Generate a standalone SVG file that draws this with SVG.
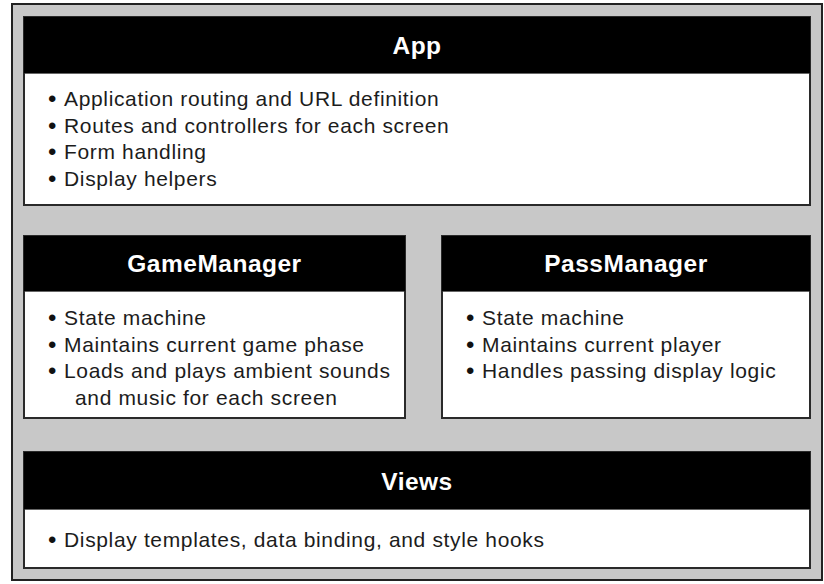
<svg xmlns="http://www.w3.org/2000/svg" width="824" height="584" viewBox="0 0 824 584">
<style>
.frame{fill:#c8c8c8;stroke:#222;stroke-width:2}
.box{fill:#fff;stroke:#2a2a2a;stroke-width:2}
.hdr{fill:#000}
.sep{stroke:#666;stroke-width:1}
.title{font-family:"Liberation Sans",Arial,Helvetica,sans-serif;font-weight:bold;font-size:24.5px;letter-spacing:0.5px;fill:#fff;text-anchor:middle}
.item{font-family:"Liberation Sans",Arial,Helvetica,sans-serif;font-size:21px;letter-spacing:0.65px;fill:#1c1c1c}
.dot{font-family:"Liberation Sans",Arial,Helvetica,sans-serif;font-size:24px;fill:#111}
</style>
<rect class="frame" x="12" y="4" width="810" height="576"/>
<g id="app">
<rect class="box" x="24" y="17" width="786" height="188"/>
<rect class="hdr" x="24" y="17" width="786" height="56"/>
<line class="sep" x1="25" y1="73.5" x2="809" y2="73.5"/>
<text class="title" x="417" y="54">App</text>
<text class="dot" x="48" y="107">•</text>
<text class="item" x="64" y="106">Application routing and URL definition</text>
<text class="dot" x="48" y="133.5">•</text>
<text class="item" x="64" y="132.5">Routes and controllers for each screen</text>
<text class="dot" x="48" y="160">•</text>
<text class="item" x="64" y="159">Form handling</text>
<text class="dot" x="48" y="186.5">•</text>
<text class="item" x="64" y="185.5">Display helpers</text>
</g>
<g id="gamemanager">
<rect class="box" x="24" y="236" width="381" height="182"/>
<rect class="hdr" x="24" y="236" width="381" height="55"/>
<line class="sep" x1="25" y1="291.5" x2="404" y2="291.5"/>
<text class="title" x="214.5" y="272">GameManager</text>
<text class="dot" x="48" y="326">•</text>
<text class="item" x="64" y="325">State machine</text>
<text class="dot" x="48" y="352.5">•</text>
<text class="item" x="64" y="351.5">Maintains current game phase</text>
<text class="dot" x="48" y="379">•</text>
<text class="item" x="64" y="378">Loads and plays ambient sounds</text>
<text class="item" x="75" y="404.5">and music for each screen</text>
</g>
<g id="passmanager">
<rect class="box" x="442" y="236" width="368" height="182"/>
<rect class="hdr" x="442" y="236" width="368" height="55"/>
<line class="sep" x1="443" y1="291.5" x2="809" y2="291.5"/>
<text class="title" x="626" y="272">PassManager</text>
<text class="dot" x="466" y="326">•</text>
<text class="item" x="482" y="325">State machine</text>
<text class="dot" x="466" y="352.5">•</text>
<text class="item" x="482" y="351.5">Maintains current player</text>
<text class="dot" x="466" y="379">•</text>
<text class="item" x="482" y="378">Handles passing display logic</text>
</g>
<g id="views">
<rect class="box" x="24" y="452" width="786" height="116"/>
<rect class="hdr" x="24" y="452" width="786" height="57"/>
<line class="sep" x1="25" y1="509.5" x2="809" y2="509.5"/>
<text class="title" x="417" y="490">Views</text>
<text class="dot" x="48" y="548">•</text>
<text class="item" x="64" y="547">Display templates, data binding, and style hooks</text>
</g>
<g id="connectors"/>
</svg>
